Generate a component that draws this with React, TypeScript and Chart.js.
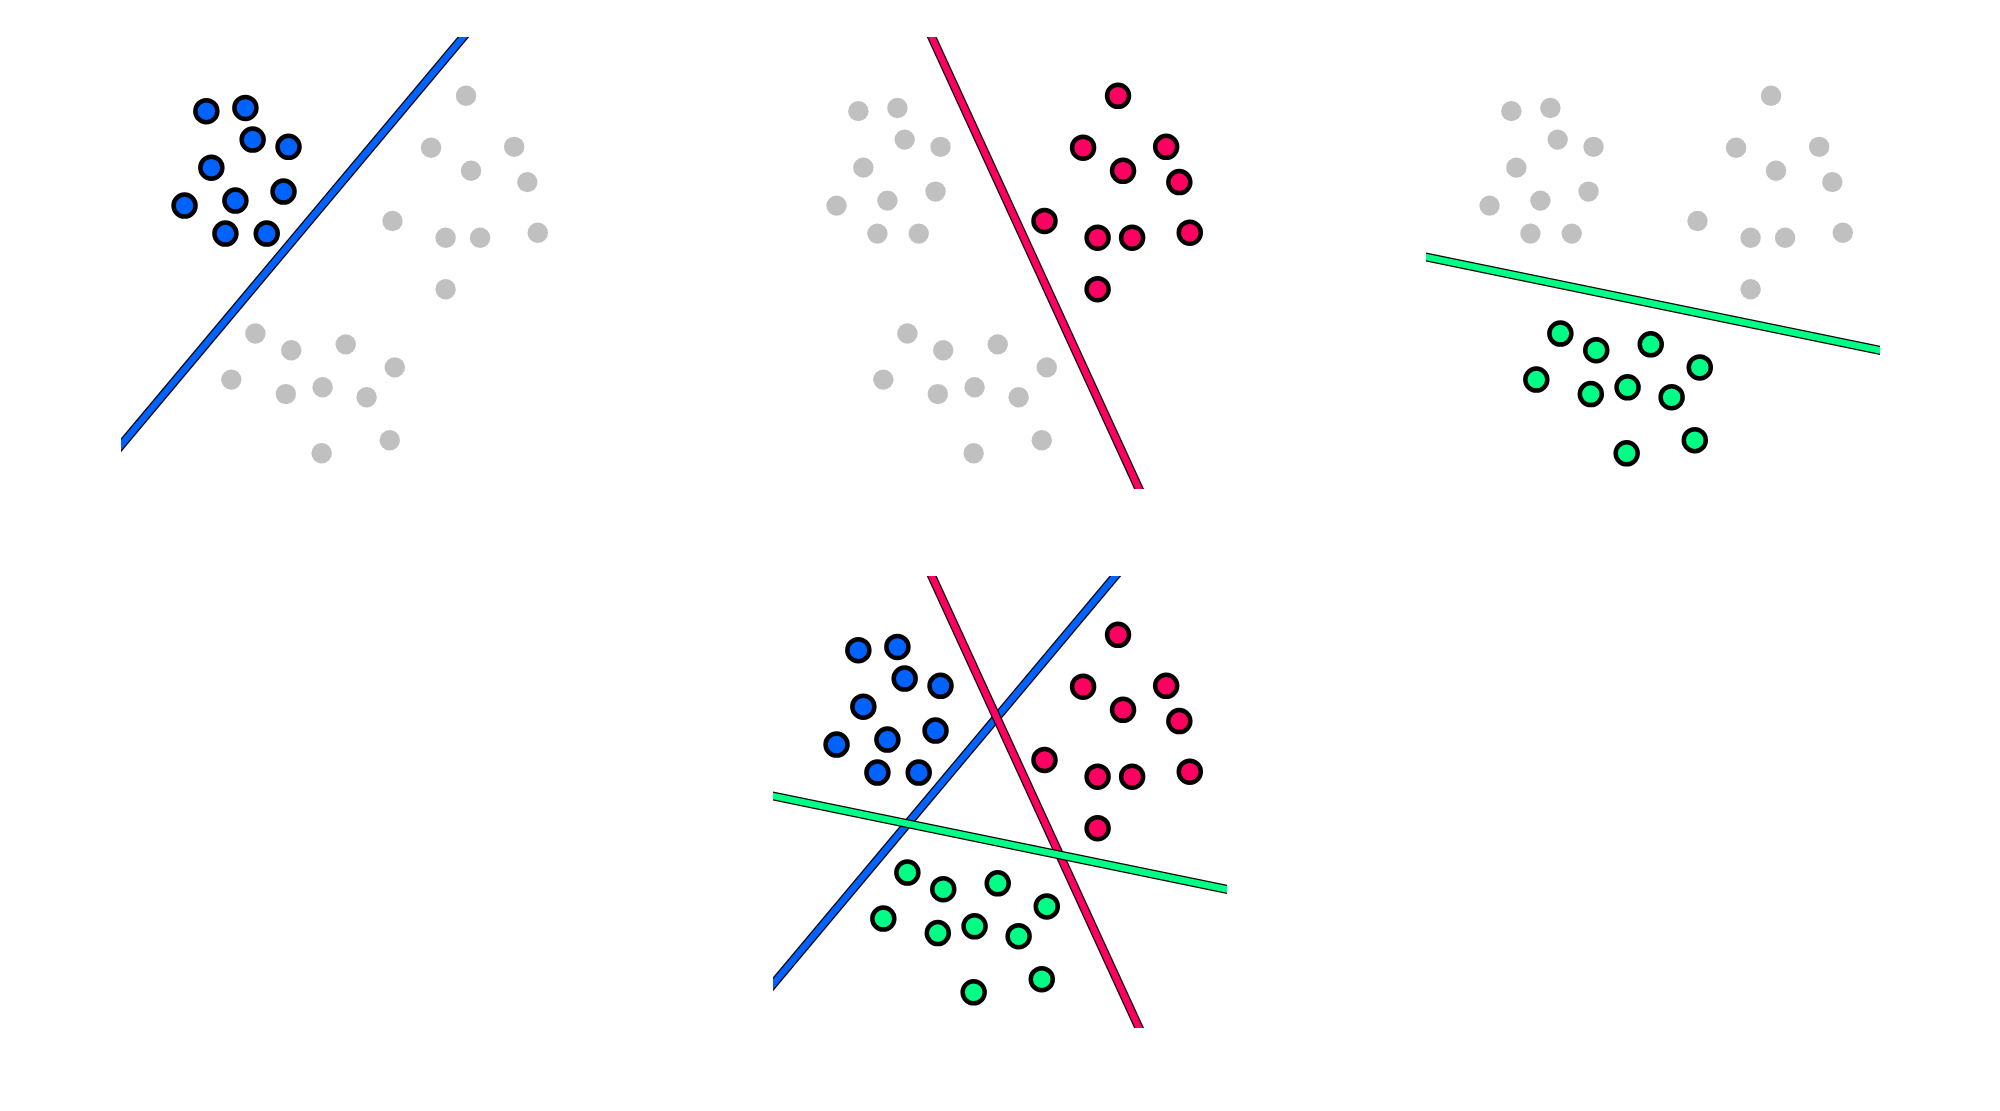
import React, { useEffect, useRef } from 'react';
import { Chart, registerables } from 'chart.js';

Chart.register(...registerables);

// Point clouds (data units, axes 0..10)
const BLUE_X = [1.88, 2.74, 2.9, 3.69, 1.99, 1.4, 2.52, 3.58, 2.3, 3.21];
const BLUE_Y = [8.36, 8.43, 7.73, 7.57, 7.11, 6.27, 6.38, 6.58, 5.65, 5.65];
const RED_X = [7.6, 6.83, 8.66, 7.71, 8.95, 5.98, 7.15, 7.91, 9.18, 7.15];
const RED_Y = [8.7, 7.55, 7.57, 7.04, 6.79, 5.93, 5.56, 5.56, 5.67, 4.42];
const GREEN_X = [2.96, 3.75, 4.95, 2.43, 3.63, 4.44, 5.41, 6.03, 4.42, 5.92];
const GREEN_Y = [3.44, 3.07, 3.2, 2.42, 2.1, 2.25, 2.03, 2.69, 0.79, 1.08];

// Separating lines (endpoints, clipped by the axes)
const BLUE_LINE_X = [-1, 8.5];
const BLUE_LINE_Y = [-0.23, 11.15];
const PINK_LINE_X = [3.04, 8.52];
const PINK_LINE_Y = [11, -1];
const GREEN_LINE_X = [-1, 11];
const GREEN_LINE_Y = [5.34, 2.86];

const COLORS = ['#0062ff', '#ff0062', '#00ff84'];
const GRAY = '#c0c0c0';

const CLASSES = [
  { xs: BLUE_X, ys: BLUE_Y },
  { xs: RED_X, ys: RED_Y },
  { xs: GREEN_X, ys: GREEN_Y },
];
const LINES = [
  { xs: BLUE_LINE_X, ys: BLUE_LINE_Y },
  { xs: PINK_LINE_X, ys: PINK_LINE_Y },
  { xs: GREEN_LINE_X, ys: GREEN_LINE_Y },
];

const toPts = (xs: number[], ys: number[]) => xs.map((x, i) => ({ x, y: ys[i] }));

const W = 454;
const H = 452;

function Panel({ highlight, lines, left, top }: { highlight: number[]; lines: number[]; left: number; top: number }) {
  const ref = useRef<HTMLCanvasElement | null>(null);
  useEffect(() => {
    if (!ref.current) return;
    const datasets: any[] = [];
    CLASSES.forEach((c, i) => {
      const on = highlight.includes(i);
      datasets.push({
        type: 'scatter',
        data: toPts(c.xs, c.ys),
        pointBackgroundColor: on ? COLORS[i] : GRAY,
        pointBorderColor: on ? '#000000' : GRAY,
        pointBorderWidth: on ? 4.5 : 0,
        pointRadius: on ? 11 : 10.2,
        pointHoverRadius: on ? 11 : 10.2,
        showLine: false,
        order: on ? 0 : 1,
        clip: false,
      });
    });
    lines.forEach((li) => {
      const l = LINES[li];
      const base = 30 - li * 4;
      datasets.push({
        type: 'scatter',
        data: toPts(l.xs, l.ys),
        showLine: true,
        borderColor: '#000000',
        borderWidth: 9,
        pointRadius: 0,
        pointHoverRadius: 0,
        order: base + 1,
        clip: 0,
      });
      datasets.push({
        type: 'scatter',
        data: toPts(l.xs, l.ys),
        showLine: true,
        borderColor: COLORS[li],
        borderWidth: 6.5,
        pointRadius: 0,
        pointHoverRadius: 0,
        order: base,
        clip: 0,
      });
    });
    const chart = new Chart(ref.current, {
      type: 'scatter',
      data: { datasets },
      options: {
        animation: false,
        responsive: false,
        events: [],
        layout: { padding: 0, autoPadding: false },
        plugins: { legend: { display: false }, tooltip: { enabled: false }, title: { display: false } },
        scales: {
          x: { type: 'linear', min: 0, max: 10, display: false },
          y: { type: 'linear', min: 0, max: 10, display: false },
        },
      },
    });
    return () => chart.destroy();
  }, []);
  return (
    <canvas
      ref={ref}
      width={W}
      height={H}
      style={{ position: 'absolute', left, top, width: W, height: H, display: 'block' }}
    />
  );
}

export default function App() {
  return (
    <div style={{ position: 'absolute', left: 0, top: 0, width: 2000, height: 1111, background: '#ffffff' }}>
      <Panel highlight={[0]} lines={[0]} left={121} top={37} />
      <Panel highlight={[1]} lines={[1]} left={773} top={37} />
      <Panel highlight={[2]} lines={[2]} left={1426} top={37} />
      <Panel highlight={[0, 1, 2]} lines={[0, 1, 2]} left={773} top={576} />
    </div>
  );
}
